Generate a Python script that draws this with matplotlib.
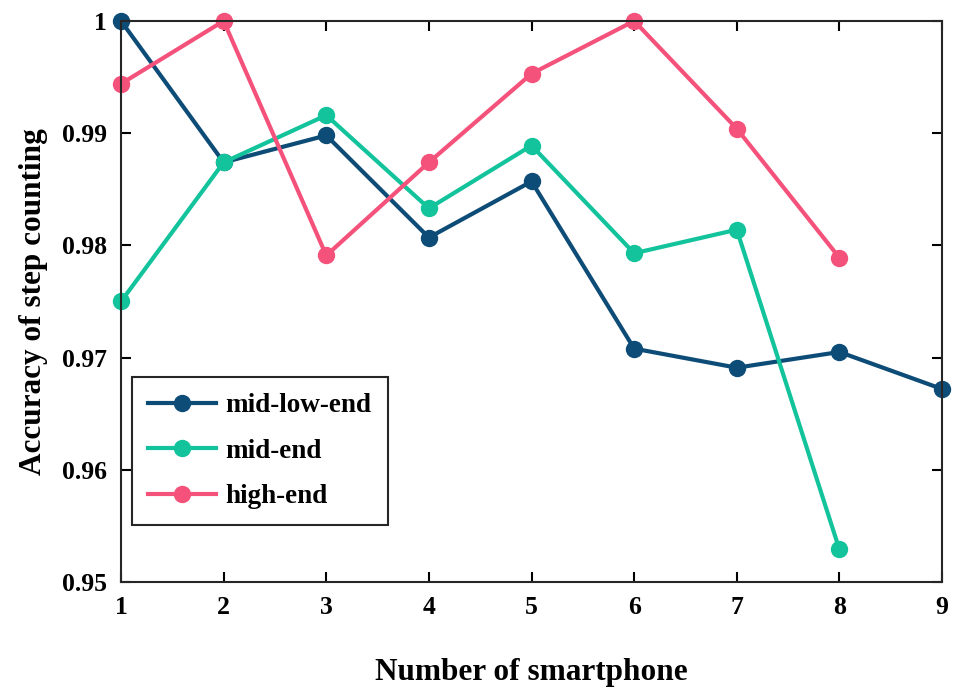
import numpy as np
import matplotlib.pyplot as plt

plt.rcParams["font.family"] = ["Liberation Serif", "DejaVu Serif"]
plt.rcParams["font.weight"] = "bold"
plt.rcParams["axes.labelweight"] = "bold"

phones = np.arange(1, 10)
mid_low_end = [1.0, 0.9874, 0.9898, 0.9807, 0.9857, 0.9708, 0.9691, 0.9705, 0.9672]
mid_end = [0.9750, 0.9874, 0.9916, 0.9833, 0.9889, 0.9793, 0.9814, 0.9529]
high_end = [0.9944, 1.0, 0.9791, 0.9874, 0.9953, 1.0, 0.9904, 0.9789]

fig = plt.figure(figsize=(9.56, 6.9), dpi=100)
ax = fig.add_axes([0.1266, 0.1565, 0.8588, 0.8131])

style = dict(linewidth=3, marker="o", markersize=11.5, clip_on=False)
ax.plot(phones, mid_low_end, color="#0e4c78", label="mid-low-end", **style)
ax.plot(phones[:len(mid_end)], mid_end, color="#12c39b", label="mid-end", **style)
ax.plot(phones[:len(high_end)], high_end, color="#f4527b", label="high-end", **style)

ax.set_xlim(1, 9)
ax.set_ylim(0.95, 1.0)
ax.set_xticks(phones)
ax.set_yticks([0.95, 0.96, 0.97, 0.98, 0.99, 1.0])
ax.set_yticklabels(["0.95", "0.96", "0.97", "0.98", "0.99", "1"])
ax.tick_params(direction="in", length=7, width=1.5, labelsize=18.5,
               top=True, right=True, pad=10)
for s in ax.spines.values():
    s.set_linewidth(1.5)
    s.set_color("#262626")

ax.set_xlabel("Number of smartphone", fontsize=22.5, labelpad=28)
ax.set_ylabel("Accuracy of step counting", fontsize=22.5, labelpad=10)

leg = ax.legend(loc="lower left", bbox_to_anchor=(-0.003, 0.077), fontsize=19.5,
                fancybox=False, edgecolor="#262626", framealpha=1,
                handlelength=2.5, handletextpad=0.35, borderpad=0.6,
                labelspacing=0.75)
leg.get_frame().set_linewidth(1.5)

fig.savefig("out.png", dpi=100)
